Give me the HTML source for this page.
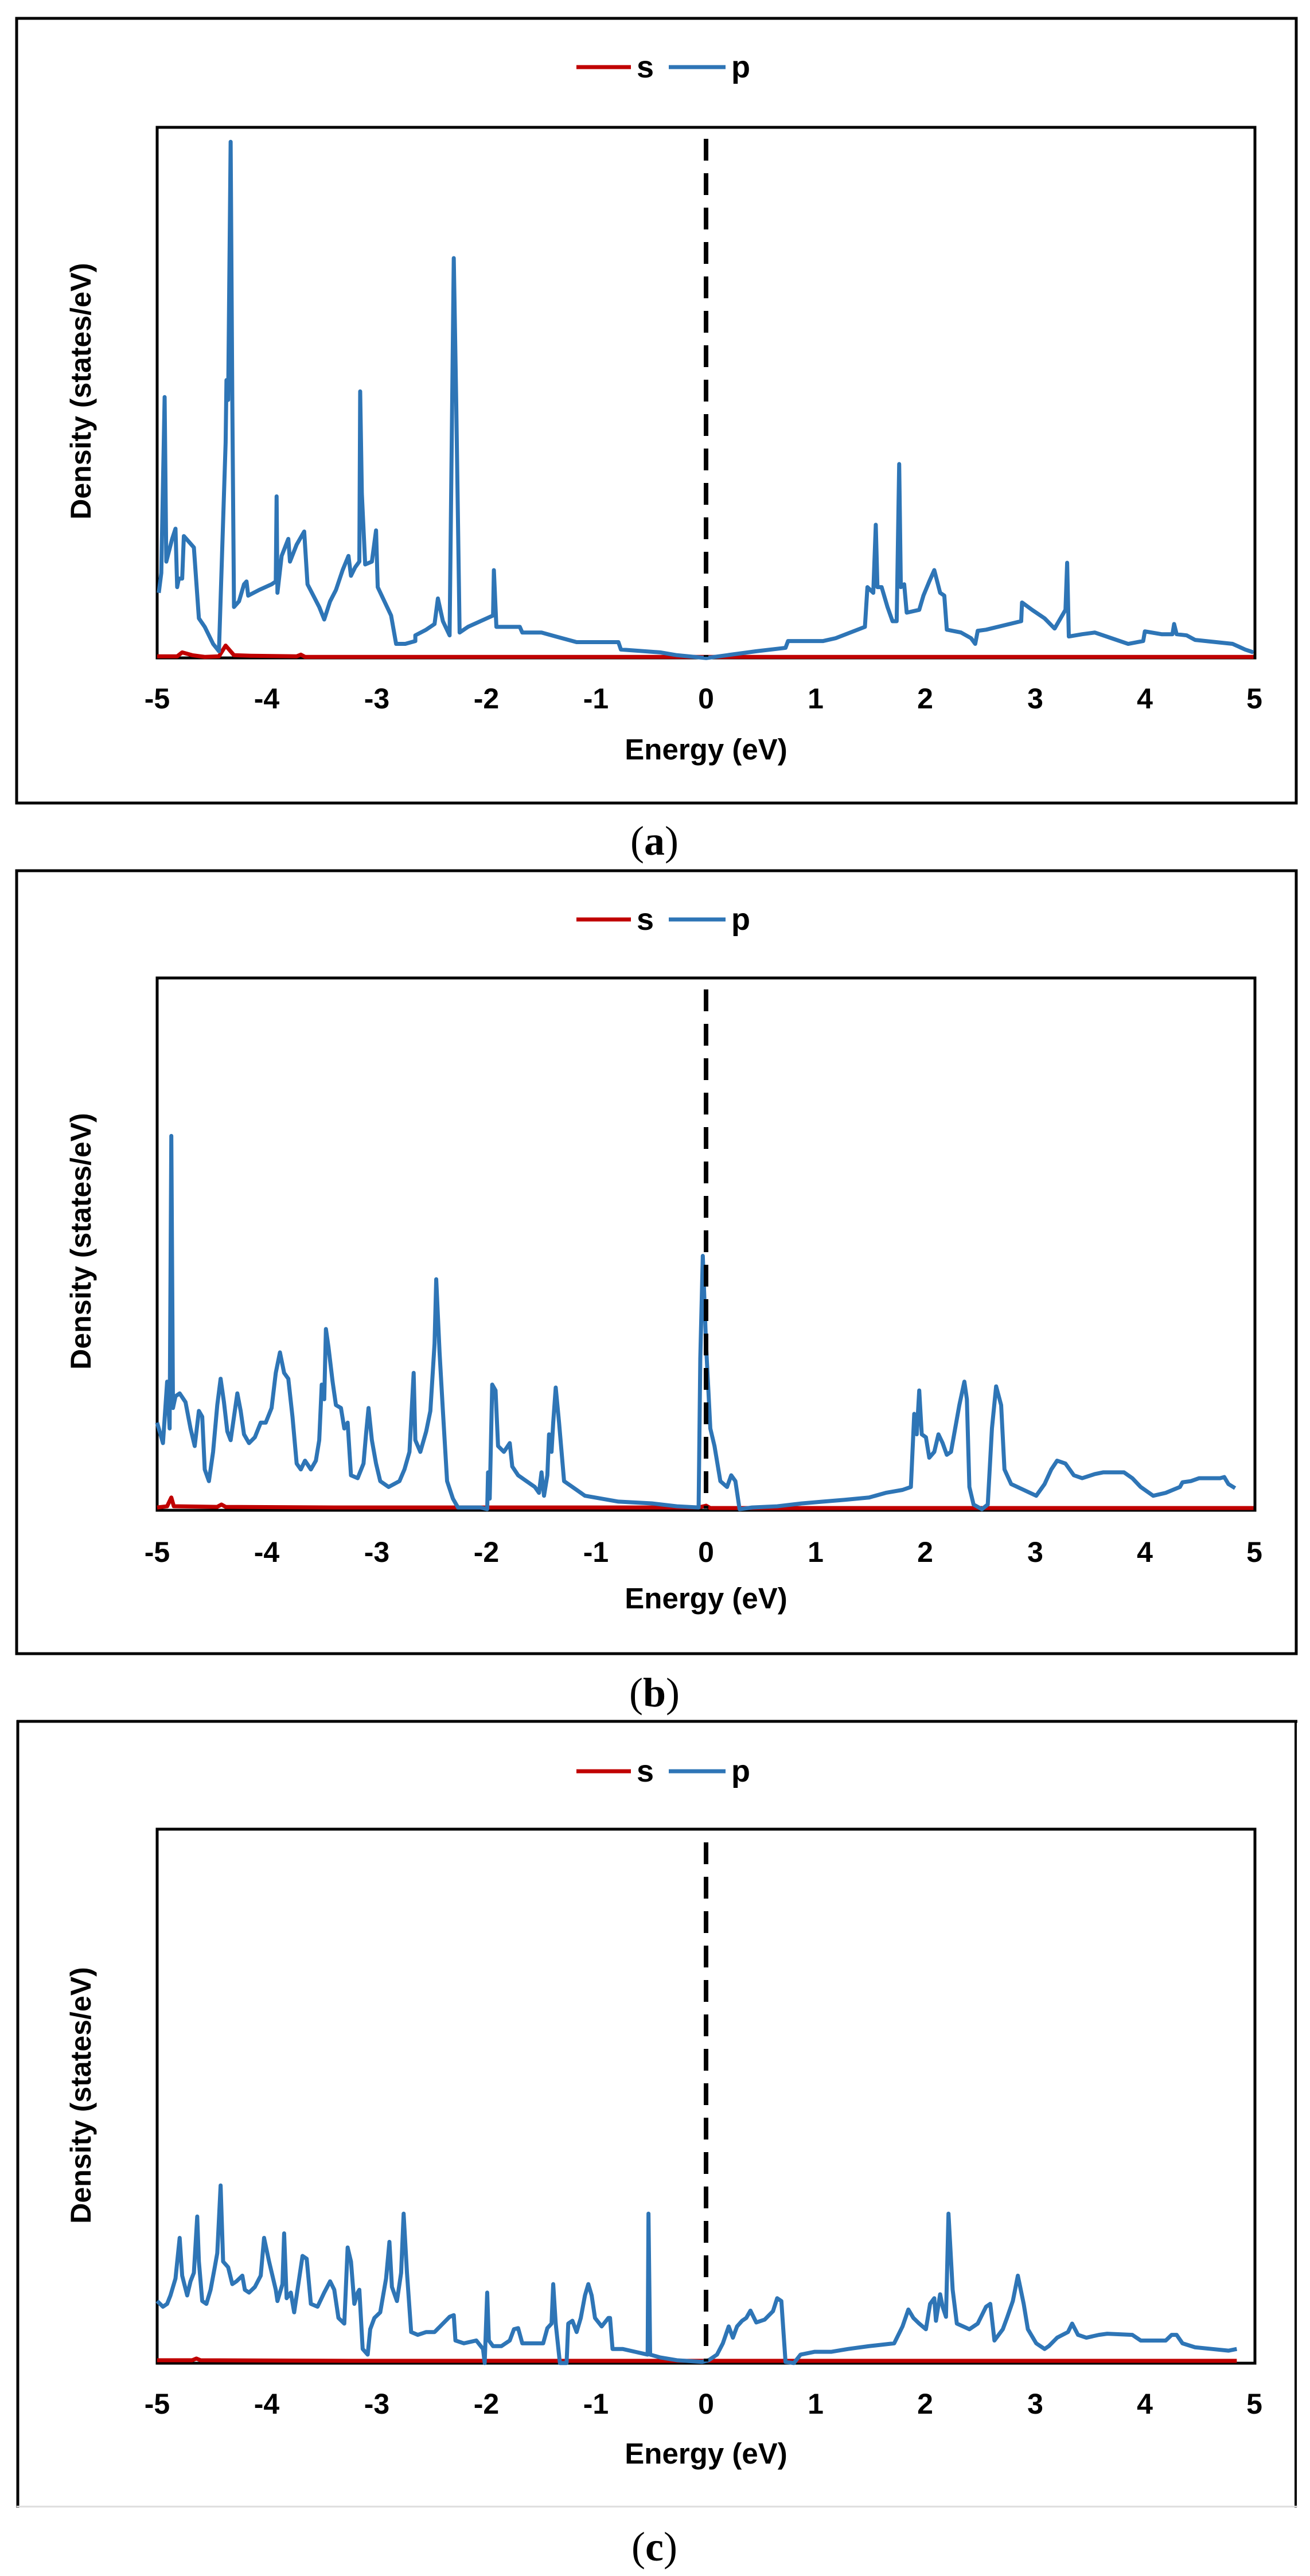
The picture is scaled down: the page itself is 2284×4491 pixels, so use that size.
<!DOCTYPE html>
<html><head><meta charset="utf-8"><style>
html,body{margin:0;padding:0;background:#fff;}
svg{display:block;}
.t{font-family:"Liberation Sans",sans-serif;font-weight:bold;fill:#000;}
.c{font-family:"Liberation Serif",serif;fill:#000;}
</style></head><body>
<svg width="2284" height="4491" viewBox="0 0 2284 4491" xmlns="http://www.w3.org/2000/svg">
<rect width="2284" height="4491" fill="#fff"/>

<!-- ===== Panel A ===== -->
<rect x="29" y="32" width="2231" height="1368" fill="none" stroke="#000" stroke-width="5"/>
<line x1="1005" y1="117" x2="1100" y2="117" stroke="#c00000" stroke-width="7"/>
<text x="1110" y="135" class="t" font-size="54">s</text>
<line x1="1166" y1="117" x2="1265" y2="117" stroke="#2e75b6" stroke-width="7"/>
<text x="1275" y="135" class="t" font-size="54">p</text>
<rect x="274" y="222" width="1914" height="925" fill="none" stroke="#000" stroke-width="5"/>
<g transform="translate(0,0) scale(1.457,0.989)" fill="none" stroke-linejoin="round">
<polyline vector-effect="non-scaling-stroke" stroke="#c00000" stroke-width="7" points="188,1157 212,1157 218,1150 230,1155 245,1158 262,1157 270,1138 280,1155 300,1156 355,1157 360,1154 365,1158 1500,1158"/>
<polyline vector-effect="non-scaling-stroke" stroke="#2e75b6" stroke-width="7" points="190,1045 193,1010 197,700 199,990 206,950 210,932 212,1035 214,1020 218,1020 220,945 226,955 232,965 238,1090 245,1105 255,1135 262,1148 265,1010 270,780 271,670 273,705 276,250 278,710 280,1070 286,1060 292,1030 295,1025 297,1050 310,1040 325,1030 330,1025 331,875 332,1045 337,980 345,950 347,990 355,960 364,937 368,1030 375,1050 382,1070 388,1092 395,1060 402,1040 410,1005 417,980 420,1015 425,1000 430,990 431,690 433,870 437,995 445,990 450,935 452,1035 460,1060 468,1085 474,1135 485,1135 497,1130 497,1120 510,1110 520,1100 524,1055 530,1095 538,1120 543,455 546,715 550,1115 560,1105 575,1095 590,1085 591,1005 594,1105 622,1105 625,1115 648,1115 665,1122 690,1132 740,1132 743,1145 790,1150 810,1155 845,1160 870,1155 905,1148 940,1142 943,1130 985,1130 1000,1125 1035,1105 1038,1035 1045,1045 1048,925 1050,1035 1055,1035 1062,1070 1068,1095 1073,1095 1076,818 1078,1035 1082,1030 1085,1080 1100,1075 1105,1050 1112,1025 1118,1005 1125,1045 1130,1050 1133,1110 1150,1115 1162,1125 1167,1135 1170,1112 1180,1110 1222,1095 1223,1062 1235,1075 1250,1090 1262,1108 1275,1075 1277,992 1279,1122 1295,1118 1310,1115 1330,1125 1350,1135 1368,1130 1370,1113 1390,1118 1403,1118 1405,1100 1408,1118 1420,1120 1430,1128 1475,1135 1490,1145 1500,1150"/>
</g>
<line x1="1231" y1="242" x2="1231" y2="1145" stroke="#000" stroke-width="8" stroke-dasharray="38,22"/>
<g class="t" font-size="50" text-anchor="middle">
<text x="274" y="1235">-5</text><text x="465" y="1235">-4</text><text x="657" y="1235">-3</text><text x="848" y="1235">-2</text><text x="1039" y="1235">-1</text><text x="1231" y="1235">0</text><text x="1422" y="1235">1</text><text x="1613" y="1235">2</text><text x="1805" y="1235">3</text><text x="1996" y="1235">4</text><text x="2187" y="1235">5</text>
</g>
<text x="1231" y="1324" class="t" font-size="51" text-anchor="middle">Energy (eV)</text>
<text transform="translate(158,682) rotate(-90)" class="t" font-size="50" text-anchor="middle">Density (states/eV)</text>
<text x="1141" y="1490" class="c" font-size="72" text-anchor="middle">(<tspan font-weight="bold">a</tspan>)</text>

<!-- ===== Panel B ===== -->
<rect x="29" y="1518" width="2231" height="1365" fill="none" stroke="#000" stroke-width="5"/>
<line x1="1005" y1="1603" x2="1100" y2="1603" stroke="#c00000" stroke-width="7"/>
<text x="1110" y="1621" class="t" font-size="54">s</text>
<line x1="1166" y1="1603" x2="1265" y2="1603" stroke="#2e75b6" stroke-width="7"/>
<text x="1275" y="1621" class="t" font-size="54">p</text>
<rect x="274" y="1705" width="1914" height="928" fill="none" stroke="#000" stroke-width="5"/>
<g transform="translate(0,1450) scale(1.457,1.02)" fill="none" stroke-linejoin="round">
<polyline vector-effect="non-scaling-stroke" stroke="#c00000" stroke-width="7" points="188,1155 200,1153 205,1138 208,1153 260,1154 265,1150 270,1154 400,1155 836,1155 845,1152 850,1156 1500,1156"/>
<polyline vector-effect="non-scaling-stroke" stroke="#2e75b6" stroke-width="7" points="188,1010 195,1045 200,940 203,1020 205,520 207,985 210,965 215,960 222,975 228,1020 233,1050 238,990 242,1000 245,1090 250,1110 255,1060 260,980 264,935 268,975 272,1025 276,1040 280,1000 284,960 288,990 292,1030 298,1045 305,1035 312,1010 318,1010 325,985 330,925 335,890 340,925 345,935 350,1000 355,1080 360,1090 365,1075 372,1090 378,1075 382,1040 385,945 388,970 390,850 393,880 398,940 402,980 408,985 412,1020 416,1010 420,1100 428,1105 435,1080 438,1030 441,985 445,1040 450,1080 455,1110 465,1120 478,1110 484,1090 490,1060 495,925 497,1040 503,1060 510,1025 515,990 520,875 522,765 526,890 530,990 535,1110 542,1140 548,1155 575,1155 583,1158 584,1095 586,1140 589,945 593,955 596,1050 603,1060 610,1045 613,1085 620,1100 630,1110 640,1120 645,1130 648,1095 651,1135 655,1100 657,1030 660,1060 662,1010 665,950 669,1010 675,1110 685,1120 700,1135 740,1145 780,1148 810,1153 836,1155 838,900 841,725 845,880 850,1020 855,1050 862,1110 870,1120 875,1100 880,1110 885,1158 900,1155 930,1153 960,1148 985,1145 1010,1142 1040,1138 1060,1130 1080,1125 1090,1120 1094,995 1097,1030 1100,955 1103,1030 1108,1035 1112,1070 1118,1060 1123,1030 1128,1045 1133,1065 1138,1060 1148,980 1154,940 1157,970 1160,1120 1165,1150 1175,1158 1182,1150 1187,1020 1192,948 1198,980 1202,1090 1210,1115 1225,1125 1240,1135 1250,1115 1258,1090 1265,1075 1275,1080 1285,1100 1295,1105 1310,1098 1320,1095 1345,1095 1355,1105 1365,1120 1380,1135 1395,1130 1412,1120 1415,1112 1425,1110 1435,1105 1460,1105 1465,1103 1470,1115 1478,1122"/>
</g>
<line x1="1231" y1="1725" x2="1231" y2="2630" stroke="#000" stroke-width="8" stroke-dasharray="38,22"/>
<g class="t" font-size="50" text-anchor="middle">
<text x="274" y="2723">-5</text><text x="465" y="2723">-4</text><text x="657" y="2723">-3</text><text x="848" y="2723">-2</text><text x="1039" y="2723">-1</text><text x="1231" y="2723">0</text><text x="1422" y="2723">1</text><text x="1613" y="2723">2</text><text x="1805" y="2723">3</text><text x="1996" y="2723">4</text><text x="2187" y="2723">5</text>
</g>
<text x="1231" y="2804" class="t" font-size="51" text-anchor="middle">Energy (eV)</text>
<text transform="translate(158,2164) rotate(-90)" class="t" font-size="50" text-anchor="middle">Density (states/eV)</text>
<text x="1141" y="2975" class="c" font-size="72" text-anchor="middle">(<tspan font-weight="bold">b</tspan>)</text>

<!-- ===== Panel C ===== -->
<line x1="29" y1="3001" x2="2262" y2="3001" stroke="#000" stroke-width="5"/>
<line x1="31" y1="2999" x2="31" y2="4372" stroke="#000" stroke-width="5"/>
<line x1="2259" y1="2999" x2="2259" y2="4372" stroke="#000" stroke-width="4"/>
<line x1="29" y1="4370" x2="2262" y2="4370" stroke="#ddd" stroke-width="3"/>
<line x1="1005" y1="3088" x2="1100" y2="3088" stroke="#c00000" stroke-width="7"/>
<text x="1110" y="3106" class="t" font-size="54">s</text>
<line x1="1166" y1="3088" x2="1265" y2="3088" stroke="#2e75b6" stroke-width="7"/>
<text x="1275" y="3106" class="t" font-size="54">p</text>
<rect x="274" y="3189" width="1914" height="931" fill="none" stroke="#000" stroke-width="5"/>
<g transform="translate(0,2950) scale(1.457,0.983)" fill="none" stroke-linejoin="round">
<polyline vector-effect="non-scaling-stroke" stroke="#c00000" stroke-width="7" points="188,1185 230,1185 235,1182 240,1185 420,1186 1480,1186"/>
<polyline vector-effect="non-scaling-stroke" stroke="#2e75b6" stroke-width="7" points="188,1080 195,1090 200,1085 204,1070 210,1040 215,968 218,1035 224,1070 228,1045 232,1030 236,930 238,1010 242,1080 247,1085 252,1060 257,1020 260,995 264,875 267,1010 273,1020 278,1050 283,1045 290,1035 293,1060 298,1065 305,1055 312,1035 316,968 322,1010 330,1060 332,1080 338,1050 340,960 343,1075 348,1065 352,1100 358,1040 362,1000 367,1005 372,1085 380,1090 388,1065 395,1045 400,1060 405,1110 412,1120 416,985 420,1010 424,1085 428,1065 430,1060 434,1165 440,1175 443,1130 448,1110 455,1100 462,1040 466,975 469,1055 475,1080 480,1030 483,925 487,1030 492,1135 500,1140 510,1135 520,1135 530,1120 538,1108 543,1105 545,1150 555,1155 570,1150 578,1165 580,1190 583,1065 585,1150 590,1160 600,1160 610,1150 615,1130 620,1128 625,1155 635,1155 650,1155 655,1128 660,1120 662,1050 665,1120 670,1190 678,1190 680,1120 685,1115 690,1135 695,1110 700,1070 704,1050 708,1070 712,1110 720,1125 728,1110 730,1110 733,1165 745,1165 760,1170 775,1175 776,925 778,1175 790,1180 810,1185 840,1188 848,1185 858,1175 865,1155 872,1125 877,1145 882,1125 888,1115 893,1110 898,1097 905,1118 915,1113 925,1098 930,1075 935,1080 940,1188 950,1190 958,1175 975,1170 995,1170 1015,1165 1040,1160 1070,1155 1080,1125 1087,1095 1093,1110 1100,1120 1108,1130 1113,1085 1118,1075 1120,1115 1125,1068 1128,1090 1132,1108 1135,925 1140,1060 1145,1120 1160,1130 1170,1120 1180,1090 1185,1085 1190,1150 1200,1130 1205,1110 1212,1080 1218,1035 1225,1085 1230,1130 1240,1155 1250,1165 1255,1160 1265,1145 1278,1135 1283,1120 1290,1140 1300,1145 1315,1140 1325,1138 1355,1140 1365,1150 1395,1150 1402,1140 1408,1140 1415,1155 1430,1162 1450,1165 1470,1168 1480,1165"/>
</g>
<line x1="1231" y1="3212" x2="1231" y2="4117" stroke="#000" stroke-width="8" stroke-dasharray="38,22"/>
<g class="t" font-size="50" text-anchor="middle">
<text x="274" y="4208">-5</text><text x="465" y="4208">-4</text><text x="657" y="4208">-3</text><text x="848" y="4208">-2</text><text x="1039" y="4208">-1</text><text x="1231" y="4208">0</text><text x="1422" y="4208">1</text><text x="1613" y="4208">2</text><text x="1805" y="4208">3</text><text x="1996" y="4208">4</text><text x="2187" y="4208">5</text>
</g>
<text x="1231" y="4295" class="t" font-size="51" text-anchor="middle">Energy (eV)</text>
<text transform="translate(158,3653) rotate(-90)" class="t" font-size="50" text-anchor="middle">Density (states/eV)</text>
<text x="1141" y="4464" class="c" font-size="72" text-anchor="middle">(<tspan font-weight="bold">c</tspan>)</text>
</svg>
</body></html>
